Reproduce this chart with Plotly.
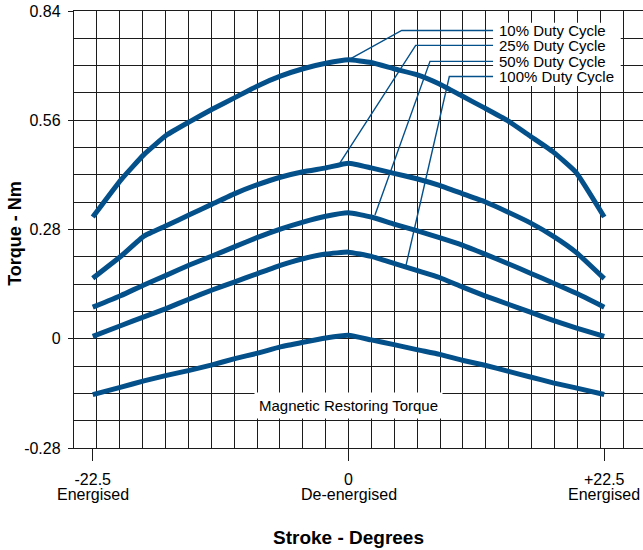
import plotly.graph_objects as go

# ── Data ───────────────────────────────────────────────────────────────────
STROKE = [-22.5, -20, -18, -16, -14, -12, -10, -8, -6, -4, -2, 0,
          2, 4, 6, 8, 10, 12, 14, 16, 18, 20, 22.5]

DUTY_10 = [0.312, 0.408, 0.472, 0.522, 0.556, 0.588, 0.618, 0.648, 0.673, 0.692, 0.706, 0.715,
           0.708, 0.692, 0.677, 0.653, 0.622, 0.591, 0.559, 0.519, 0.479, 0.427, 0.312]
DUTY_25 = [0.155, 0.212, 0.263, 0.290, 0.318, 0.345, 0.372, 0.395, 0.414, 0.428, 0.438, 0.450,
           0.438, 0.424, 0.410, 0.393, 0.372, 0.351, 0.325, 0.297, 0.263, 0.222, 0.154]
DUTY_50 = [0.081, 0.111, 0.138, 0.163, 0.189, 0.212, 0.236, 0.260, 0.281, 0.299, 0.314, 0.323,
           0.312, 0.294, 0.277, 0.259, 0.240, 0.217, 0.193, 0.168, 0.143, 0.117, 0.081]
DUTY_100 = [0.006, 0.034, 0.056, 0.078, 0.102, 0.125, 0.146, 0.167, 0.188, 0.205, 0.217, 0.222,
            0.211, 0.193, 0.175, 0.157, 0.133, 0.110, 0.089, 0.068, 0.047, 0.028, 0.006]
MAGNETIC = [-0.143, -0.124, -0.108, -0.094, -0.081, -0.067, -0.051, -0.037, -0.021, -0.009, 0.002, 0.009,
            -0.003, -0.015, -0.028, -0.040, -0.055, -0.068, -0.083, -0.098, -0.113, -0.126, -0.143]

SERIES = [DUTY_10, DUTY_25, DUTY_50, DUTY_100, MAGNETIC]

LABELS = ["10% Duty Cycle", "25% Duty Cycle", "50% Duty Cycle", "100% Duty Cycle"]
LABEL_Y = [0.790, 0.752, 0.711, 0.672]
# leader lines: point on curve -> elbow (x), then across to the label
LEADER_FROM = [(0.0, 0.715), (-0.75, 0.451), (2.33, 0.317), (5.06, 0.188)]
LEADER_ELBOW_X = [4.68, 5.91, 7.17, 8.87]

X_TICKS = [-22.5, 0, 22.5]
X_TICK_TEXT = ["-22.5", "0", "+22.5"]
X_TICK_WORDS = ["Energised", "De-energised", "Energised"]
Y_TICKS = [-0.28, 0, 0.28, 0.56, 0.84]
Y_TICK_TEXT = ["-0.28", "0", "0.28", "0.56", "0.84"]

# ── Styling ────────────────────────────────────────────────────────────────
BLUE = "#04508a"
GRID = "#1c1c1c"
FONT = "Liberation Sans, Arial, Helvetica, sans-serif"
X_RANGE = [-24.15, 25.91]
Y_RANGE = [-0.28, 0.84]
LABEL_X = 13.1
BOX_X0 = 12.72

fig = go.Figure()

for vals in SERIES:
    fig.add_trace(go.Scatter(
        x=STROKE, y=vals, mode="lines",
        line=dict(color=BLUE, width=5, shape="spline", smoothing=0.4),
        showlegend=False, hoverinfo="skip",
    ))

# empty trace so the labelled tick axis gets drawn
fig.add_trace(go.Scatter(x=[None], y=[None], xaxis="x2", showlegend=False, hoverinfo="skip"))

# leader lines
for (x0, y0), ex, ly in zip(LEADER_FROM, LEADER_ELBOW_X, LABEL_Y):
    fig.add_shape(type="path", xref="x", yref="y",
                  path=f"M {x0},{y0} L {ex},{ly} L {BOX_X0},{ly}",
                  line=dict(color=BLUE, width=1.4), layer="above")

# white box behind duty-cycle labels
fig.add_shape(type="rect", xref="x", yref="y",
              x0=BOX_X0, x1=23.95, y0=0.648, y1=0.810,
              fillcolor="white", line=dict(width=0), layer="above")

for text, ly in zip(LABELS, LABEL_Y):
    fig.add_annotation(x=LABEL_X, y=ly, xref="x", yref="y", text=text,
                       showarrow=False, xanchor="left", yanchor="middle",
                       font=dict(size=15, color="black", family=FONT))

fig.add_annotation(x=0, y=-0.171, xref="x", yref="y", text="Magnetic Restoring Torque",
                   showarrow=False, bgcolor="white", borderpad=4,
                   font=dict(size=15, color="black", family=FONT))

for xv, word in zip(X_TICKS, X_TICK_WORDS):
    fig.add_annotation(x=xv, y=0, xref="x", yref="paper", text=word,
                       showarrow=False, yanchor="middle", yshift=-46,
                       font=dict(size=16, color="black", family=FONT))

fig.add_annotation(x=0, y=0, xref="x", yref="paper", text="<b>Stroke - Degrees</b>",
                   showarrow=False, yanchor="middle", yshift=-89,
                   font=dict(size=19, color="black", family=FONT))

fig.add_annotation(x=0, y=0.49, xref="paper", yref="paper", text="<b>Torque - Nm</b>",
                   showarrow=False, textangle=-90, xanchor="center", xshift=-59,
                   font=dict(size=18, color="black", family=FONT))

fig.update_layout(
    width=643, height=550,
    margin=dict(l=74, r=0, t=11, b=102),
    paper_bgcolor="white", plot_bgcolor="white",
    font=dict(family=FONT, size=16, color="black"),
    xaxis=dict(
        range=X_RANGE, tick0=0, dtick=2.0125,
        showgrid=True, gridcolor=GRID, gridwidth=1.4,
        showticklabels=False, ticks="", zeroline=False,
        showline=True, mirror=True, linecolor=GRID, linewidth=1.4,
    ),
    xaxis2=dict(
        overlaying="x", anchor="y", side="bottom", range=X_RANGE,
        tickmode="array", tickvals=X_TICKS, ticktext=X_TICK_TEXT,
        ticks="outside", ticklen=12, tickwidth=1.4, tickcolor=GRID,
        ticklabelstandoff=5,
        showgrid=False, zeroline=False, showline=False,
        tickfont=dict(size=16, color="black", family=FONT),
    ),
    yaxis=dict(
        range=Y_RANGE, tickmode="array", tickvals=Y_TICKS, ticktext=Y_TICK_TEXT,
        showgrid=True, gridcolor=GRID, gridwidth=1.4,
        minor=dict(tick0=0, dtick=0.07, showgrid=True, gridcolor=GRID, gridwidth=1.4),
        ticks="outside", ticklen=5, tickwidth=1.4, tickcolor=GRID,
        ticklabelstandoff=4, ticklabeloverflow="allow",
        zeroline=False, showline=True, linecolor=GRID, linewidth=1.4,
        tickfont=dict(size=16, color="black", family=FONT),
    ),
)

# drop the default page margin so the figure sits at the window's corner
fig.write_html("out.html", config={"displayModeBar": False},
               post_script="document.body.style.margin = '0';")
